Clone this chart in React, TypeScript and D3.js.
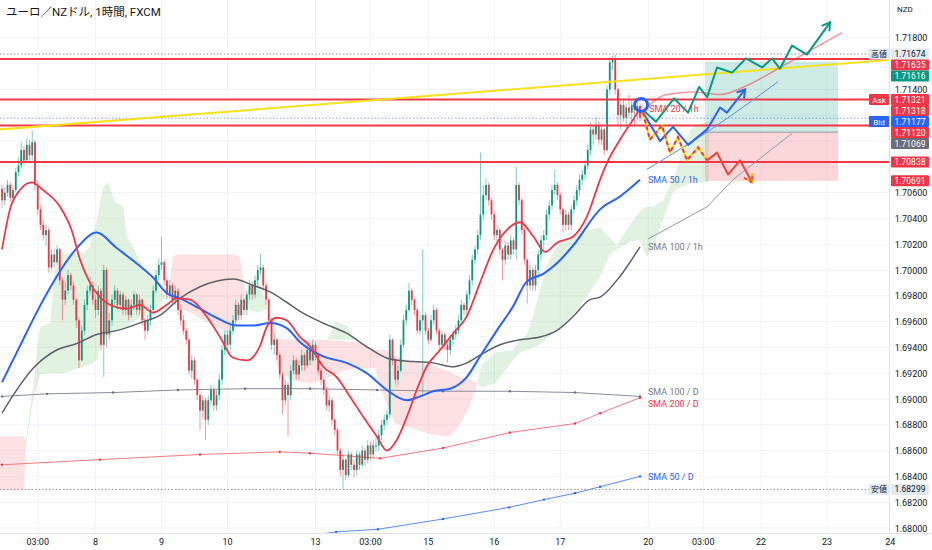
import * as d3 from "d3";

const W = 932;
const H = 550;
const PLOT_R = 889;
const PLOT_B = 533;
const FONT = "Roboto, 'Noto Sans CJK JP', sans-serif";

const title = "ユーロ／NZドル, 1時間, FXCM";
const currency = "NZD";

// hourly candles: [close, high, low]; open = previous close
const firstOpen = 1.7063;
const candles: [number, number, number][] = [
  [1.7054, 1.7066, 1.7048], [1.706, 1.7064, 1.705], [1.7066, 1.707, 1.7057], [1.7056, 1.7068, 1.7053],
  [1.7062, 1.7065, 1.7054], [1.7076, 1.7079, 1.706], [1.7081, 1.7087, 1.7073], [1.7093, 1.7099, 1.7079],
  [1.7085, 1.7096, 1.7081], [1.7097, 1.7102, 1.7083], [1.7089, 1.7101, 1.7085], [1.7099, 1.7108, 1.7085],
  [1.7066, 1.7101, 1.7062], [1.7047, 1.707, 1.7043], [1.7035, 1.705, 1.7031], [1.7027, 1.7039, 1.7023],
  [1.7031, 1.7035, 1.7019], [1.7002, 1.7033, 1.6998], [1.7012, 1.7016, 1.7], [1.7006, 1.7016, 1.7002],
  [1.7016, 1.7019, 1.7004], [1.6992, 1.7017, 1.6988], [1.6977, 1.6994, 1.6961], [1.6984, 1.6991, 1.6973],
  [1.6996, 1.7, 1.6981], [1.6988, 1.6998, 1.6984], [1.6977, 1.6991, 1.6973], [1.6961, 1.6978, 1.6955],
  [1.693, 1.6963, 1.6924], [1.6953, 1.6957, 1.6929], [1.6973, 1.6977, 1.695], [1.6984, 1.6988, 1.6969],
  [1.6988, 1.6995, 1.6981], [1.6977, 1.6991, 1.6973], [1.6969, 1.6981, 1.6963], [1.6984, 1.6988, 1.6965],
  [1.6942, 1.6986, 1.6938], [1.7, 1.7004, 1.6917], [1.695, 1.7002, 1.694], [1.6961, 1.6967, 1.6946],
  [1.6977, 1.6981, 1.6957], [1.6984, 1.6988, 1.6973], [1.6973, 1.6986, 1.6969], [1.6981, 1.6984, 1.6969],
  [1.6969, 1.6983, 1.6965], [1.6977, 1.698, 1.6965], [1.6965, 1.6978, 1.6961], [1.6973, 1.6977, 1.6963],
  [1.6981, 1.6984, 1.6969], [1.6969, 1.6982, 1.6965], [1.6977, 1.6981, 1.6965], [1.6961, 1.6978, 1.6957],
  [1.6953, 1.6963, 1.6946], [1.6961, 1.6965, 1.695], [1.6969, 1.6973, 1.6957], [1.6984, 1.6988, 1.6967],
  [1.6996, 1.7, 1.6982], [1.7004, 1.7009, 1.6992], [1.7006, 1.7026, 1.7], [1.6992, 1.7008, 1.6988],
  [1.6981, 1.6994, 1.6977], [1.6988, 1.6992, 1.6978], [1.6977, 1.699, 1.6973], [1.6984, 1.6988, 1.6973],
  [1.6969, 1.6986, 1.6965], [1.6961, 1.6973, 1.6957], [1.6953, 1.6965, 1.695], [1.6946, 1.6955, 1.6942],
  [1.6922, 1.6947, 1.6919], [1.693, 1.6934, 1.6916], [1.6915, 1.6932, 1.6911], [1.6903, 1.6916, 1.6899],
  [1.6891, 1.6905, 1.6876], [1.6899, 1.6903, 1.6885], [1.6884, 1.6901, 1.6868], [1.6899, 1.6903, 1.688],
  [1.6907, 1.6911, 1.6895], [1.6895, 1.6909, 1.6891], [1.6903, 1.6907, 1.6891], [1.6915, 1.6919, 1.6899],
  [1.6938, 1.6942, 1.6911], [1.695, 1.6953, 1.6934], [1.6942, 1.6953, 1.6938], [1.6953, 1.6957, 1.6938],
  [1.6961, 1.6965, 1.695], [1.6973, 1.6977, 1.6957], [1.6965, 1.6975, 1.6961], [1.6977, 1.6981, 1.6961],
  [1.6969, 1.6978, 1.6965], [1.6981, 1.6984, 1.6965], [1.6988, 1.6992, 1.6977], [1.6981, 1.6991, 1.6977],
  [1.6992, 1.6996, 1.6978], [1.7, 1.7004, 1.6988], [1.7002, 1.7012, 1.6996], [1.6988, 1.7004, 1.6984],
  [1.6977, 1.6991, 1.6973], [1.6961, 1.6978, 1.6957], [1.6942, 1.6963, 1.6938], [1.6946, 1.695, 1.6934],
  [1.6934, 1.6947, 1.693], [1.6919, 1.6936, 1.6915], [1.6899, 1.6921, 1.6888], [1.6911, 1.6915, 1.6895],
  [1.6903, 1.6913, 1.6871], [1.6922, 1.6926, 1.6899], [1.693, 1.6934, 1.6919], [1.6919, 1.6932, 1.6915],
  [1.6926, 1.693, 1.6915], [1.6934, 1.6938, 1.6922], [1.6926, 1.6936, 1.6922], [1.6938, 1.6942, 1.6924],
  [1.693, 1.694, 1.6926], [1.6942, 1.6946, 1.6929], [1.6934, 1.6944, 1.693], [1.6922, 1.6936, 1.6919],
  [1.6915, 1.6924, 1.6911], [1.6907, 1.6916, 1.6903], [1.6895, 1.6909, 1.6891], [1.6899, 1.6903, 1.689],
  [1.6884, 1.6901, 1.688], [1.6876, 1.6885, 1.6872], [1.686, 1.6878, 1.6857], [1.6845, 1.6862, 1.684],
  [1.6853, 1.6857, 1.683], [1.6841, 1.6854, 1.6837], [1.6857, 1.686, 1.6839], [1.6849, 1.6859, 1.6845],
  [1.6845, 1.6853, 1.6839], [1.6857, 1.686, 1.6841], [1.6849, 1.6859, 1.6845], [1.686, 1.6864, 1.6847],
  [1.6853, 1.6862, 1.6848], [1.6864, 1.6868, 1.685], [1.6857, 1.6867, 1.6853], [1.6864, 1.6868, 1.6854],
  [1.6864, 1.687, 1.6859], [1.6872, 1.6876, 1.686], [1.688, 1.6884, 1.6868], [1.6884, 1.6888, 1.6876],
  [1.6888, 1.6891, 1.688], [1.6946, 1.695, 1.6885], [1.693, 1.6947, 1.6926], [1.6915, 1.6932, 1.6911],
  [1.6922, 1.6926, 1.6911], [1.6942, 1.6946, 1.6921], [1.6961, 1.6965, 1.694], [1.6969, 1.6973, 1.6957],
  [1.6984, 1.699, 1.6967], [1.6977, 1.6986, 1.6973], [1.6969, 1.6978, 1.6965], [1.6953, 1.6971, 1.695],
  [1.6961, 1.6965, 1.695], [1.6965, 1.7016, 1.6902], [1.6953, 1.6967, 1.695], [1.6946, 1.6955, 1.6942],
  [1.6961, 1.6965, 1.6944], [1.6969, 1.6973, 1.6957], [1.6953, 1.6971, 1.695], [1.6942, 1.6955, 1.6938],
  [1.695, 1.6953, 1.6938], [1.6942, 1.6952, 1.6938], [1.6938, 1.6946, 1.6928], [1.6946, 1.695, 1.6934],
  [1.695, 1.6953, 1.6942], [1.6953, 1.6957, 1.6946], [1.6961, 1.6965, 1.695], [1.6973, 1.6977, 1.6957],
  [1.6969, 1.6975, 1.6965], [1.6981, 1.6984, 1.6965], [1.6992, 1.6996, 1.6977], [1.7008, 1.7012, 1.6988],
  [1.7016, 1.7019, 1.7004], [1.7027, 1.7031, 1.7012], [1.7043, 1.7091, 1.7023], [1.7058, 1.7066, 1.7039],
  [1.7066, 1.7071, 1.7054], [1.7054, 1.7068, 1.705], [1.7043, 1.7056, 1.7039], [1.7027, 1.7045, 1.7023],
  [1.7031, 1.7035, 1.7019], [1.7016, 1.7033, 1.7012], [1.7008, 1.7017, 1.6992], [1.7019, 1.7023, 1.7004],
  [1.7012, 1.7022, 1.7008], [1.7023, 1.7027, 1.7008], [1.7016, 1.7025, 1.7012], [1.7066, 1.708, 1.7008],
  [1.7054, 1.7068, 1.705], [1.7031, 1.7056, 1.7027], [1.7008, 1.7033, 1.7004], [1.6988, 1.7009, 1.6974],
  [1.7, 1.7004, 1.6984], [1.6988, 1.7002, 1.6984], [1.7, 1.7004, 1.6984], [1.7012, 1.7016, 1.6996],
  [1.7023, 1.7027, 1.7008], [1.7027, 1.7031, 1.7016], [1.7043, 1.7047, 1.7023], [1.705, 1.7054, 1.7039],
  [1.7062, 1.7066, 1.7047], [1.7066, 1.7078, 1.7058], [1.7058, 1.7068, 1.7054], [1.7047, 1.706, 1.7043],
  [1.7035, 1.7048, 1.7029], [1.7043, 1.7047, 1.7031], [1.7035, 1.7045, 1.7031], [1.7047, 1.705, 1.7031],
  [1.7054, 1.7058, 1.7043], [1.7062, 1.7066, 1.705], [1.707, 1.7074, 1.7058], [1.7074, 1.7078, 1.7066],
  [1.7081, 1.7085, 1.707], [1.7093, 1.7097, 1.7078], [1.7109, 1.7114, 1.7089], [1.7105, 1.7112, 1.7097],
  [1.7112, 1.7118, 1.7101], [1.7101, 1.7115, 1.7097], [1.7109, 1.7112, 1.7097], [1.7093, 1.711, 1.7089],
  [1.714, 1.7143, 1.7091], [1.7161, 1.7165, 1.7136], [1.7164, 1.7166, 1.7155], [1.714, 1.7167, 1.7136],
  [1.712, 1.7141, 1.7112], [1.7128, 1.7132, 1.7109], [1.7118, 1.7133, 1.7115], [1.7126, 1.7129, 1.711],
  [1.7122, 1.7136, 1.7118], [1.7128, 1.7132, 1.7115], [1.7124, 1.713, 1.7112], [1.7127, 1.7132, 1.7116],
  [1.7118, 1.7129, 1.7115],
];

// moving averages: [bar, price]
const sma20h: [number, number][] = [
  [0, 1.7016], [2.9, 1.7047], [6.5, 1.7062], [10.8, 1.7068], [14.9, 1.7062], [21.1, 1.7049], [25.3, 1.7031],
  [28.4, 1.7008], [32, 1.699], [35.6, 1.6979], [40.4, 1.6972], [45.3, 1.697], [50.2, 1.6973], [54.9, 1.6967],
  [59.9, 1.6973], [63.5, 1.6978], [68.4, 1.6977], [74.4, 1.6964], [79.3, 1.6948], [84, 1.6932], [89, 1.693],
  [93.8, 1.6941], [96.3, 1.6956], [99.9, 1.6963], [103.5, 1.6961], [108.4, 1.6948], [112, 1.6941],
  [116.8, 1.6925], [121.7, 1.6917], [126.5, 1.6902], [131.4, 1.6886], [136.3, 1.6871], [139.9, 1.686],
  [143.5, 1.6868], [147.2, 1.6886], [150.8, 1.6907], [154.4, 1.6925], [159.3, 1.6938], [164.1, 1.6951],
  [169, 1.6964], [173.8, 1.699], [178.7, 1.7016], [183.5, 1.7031], [188.4, 1.7037], [193.2, 1.7026],
  [197.5, 1.7014], [201.7, 1.7021], [207.7, 1.7026], [212.6, 1.7041], [217.5, 1.707], [220, 1.7083],
  [224.7, 1.7101], [230.8, 1.7121], [232.4, 1.7127],
];
const sma50h: [number, number][] = [
  [0, 1.6913], [6.5, 1.6941], [13.8, 1.6972], [19.9, 1.6995], [27.2, 1.7017], [34.4, 1.7029], [41.7, 1.7017],
  [49, 1.7005], [55, 1.6994], [59.9, 1.6982], [64.7, 1.6978], [72, 1.697], [78, 1.6963], [85.3, 1.6957],
  [91.4, 1.6957], [97.5, 1.6959], [103.5, 1.6955], [108.4, 1.6944], [116.8, 1.6933], [125.3, 1.6928],
  [132.6, 1.692], [139.9, 1.6907], [147.2, 1.6899], [152, 1.6902], [156.8, 1.6906], [162.9, 1.6908],
  [169, 1.6917], [173.8, 1.6933], [179.9, 1.6953], [185.9, 1.6972], [190.8, 1.6991], [196.8, 1.6997],
  [201.7, 1.7005], [207.7, 1.7019], [217.5, 1.7047], [224.7, 1.7057], [232, 1.707],
];
const sma100h: [number, number][] = [
  [0, 1.6889], [4.1, 1.6903], [11.4, 1.6924], [19.9, 1.6938], [27.2, 1.6943], [34.4, 1.695], [41.7, 1.6953],
  [50.2, 1.6959], [57.5, 1.6965], [64.7, 1.6978], [72, 1.6987], [84.1, 1.6993], [91.4, 1.6988], [97.5, 1.6983],
  [103.5, 1.6975], [108.4, 1.6968], [115.6, 1.696], [125.3, 1.6951], [133.8, 1.6939], [141.1, 1.6931],
  [149.6, 1.6929], [156.8, 1.6928], [164.1, 1.6925], [169, 1.6928], [173.8, 1.6934], [181.1, 1.6942],
  [188.4, 1.6946], [195.6, 1.6948], [201.7, 1.6953], [207.7, 1.6964], [213.8, 1.6977], [217.5, 1.6979],
  [224.7, 1.6995], [232, 1.7018],
];
const sma100d: [number, number][] = [
  [0, 1.6902], [16.4, 1.6904], [40.4, 1.6905], [64, 1.6907], [88.4, 1.6908], [112, 1.6908], [136.4, 1.6907],
  [160.4, 1.6906], [184.7, 1.6906], [208.4, 1.6905], [232, 1.6902],
];
const sma200d: [number, number][] = [
  [0, 1.6849], [35.6, 1.6853], [72, 1.6857], [101, 1.6859], [112, 1.6858], [137.5, 1.6854], [160.4, 1.6862],
  [184.7, 1.6874], [208.4, 1.6881], [217.5, 1.6889], [232, 1.6901],
];
const sma50d: [number, number][] = [
  [108.4, 1.6793], [121.5, 1.6797], [136.7, 1.6799], [160.4, 1.6807], [184.4, 1.6816], [197.1, 1.6822],
  [208.4, 1.6827], [217.5, 1.6832], [232, 1.684],
];

// ichimoku cloud pieces: [bar, upper, lower]
const cloudGreen: [number, number, number][][] = [
  [
    [8.7, 1.6868, 1.6864], [11.3, 1.6909, 1.6899], [13.8, 1.6956, 1.6919], [17.5, 1.6959, 1.692],
    [19.3, 1.7, 1.692], [21.8, 1.7013, 1.692], [29.5, 1.7013, 1.6925], [32, 1.7018, 1.6927],
    [34.5, 1.7039, 1.693], [36.7, 1.7064, 1.6947], [38.5, 1.7068, 1.6951], [41.1, 1.7053, 1.6953],
    [44, 1.7049, 1.6955], [45.5, 1.7026, 1.6956], [47.6, 1.7018, 1.696], [51.3, 1.7002, 1.6964],
    [54.9, 1.6992, 1.6969], [58.5, 1.6982, 1.6977], [60.4, 1.6979, 1.6979],
  ],
  [[88.7, 1.6977, 1.6977], [90.2, 1.699, 1.6969], [93.1, 1.6992, 1.6967], [95.6, 1.6977, 1.6969], [96.7, 1.6969, 1.6969]],
  [[118.2, 1.6946, 1.6946], [121.1, 1.696, 1.6946], [125.5, 1.6957, 1.6946], [128.4, 1.6946, 1.6946]],
  [
    [172.7, 1.6912, 1.6912], [174.5, 1.6926, 1.6909], [179.3, 1.6936, 1.6912], [185.8, 1.6938, 1.693],
    [188.4, 1.6946, 1.6936], [190.9, 1.695, 1.6938], [193.1, 1.6964, 1.694], [195.6, 1.6984, 1.6942],
    [198.2, 1.7004, 1.6947], [201.8, 1.7019, 1.6953], [207.6, 1.7026, 1.6965], [213.8, 1.7031, 1.6983],
    [217.5, 1.7033, 1.6995], [221.1, 1.7025, 1.7012], [223.6, 1.7019, 1.7016], [228.4, 1.7035, 1.7022],
    [232, 1.7046, 1.7023], [234.5, 1.7049, 1.701], [236.7, 1.7049, 1.7018], [240.4, 1.7054, 1.7039],
    [241.8, 1.706, 1.7047], [244, 1.707, 1.706], [246.5, 1.7085, 1.7064], [250.2, 1.7109, 1.7067],
    [252, 1.7112, 1.7068], [257, 1.7115, 1.7068],
  ],
];
const cloudRed: [number, number, number][][] = [
  [[-1, 1.6871, 1.6829], [8, 1.6871, 1.6829], [8.7, 1.6868, 1.6864]],
  [
    [60.4, 1.6979, 1.6979], [62.2, 1.7011, 1.6984], [64.7, 1.7012, 1.6971], [68.4, 1.7012, 1.6967],
    [73.1, 1.7012, 1.6961], [78.2, 1.7012, 1.6956], [81.8, 1.7012, 1.6951], [84, 1.7012, 1.6956],
    [86.5, 1.701, 1.6963], [88.7, 1.6977, 1.6977],
  ],
  [
    [96.7, 1.6969, 1.6969], [100, 1.6947, 1.6926], [104.7, 1.6946, 1.6915], [112, 1.6946, 1.6912],
    [116.7, 1.6946, 1.6915], [122.9, 1.6945, 1.6921], [129.1, 1.6944, 1.6924], [135.6, 1.6938, 1.6924],
    [139.3, 1.6938, 1.6899], [142.9, 1.6934, 1.6881], [148.4, 1.6929, 1.6878], [156.7, 1.6926, 1.6872],
    [162.9, 1.6921, 1.6871], [166.5, 1.6917, 1.688], [170.2, 1.6915, 1.6895], [172.7, 1.6912, 1.6912],
  ],
];

const hLines = [1.71635, 1.71321, 1.7112, 1.70838];
const highPrice = 1.71674;
const lowPrice = 1.68299;
const bidPrice = 1.71177;
const trendLine: [number, number][] = [[-0.8, 1.7109], [323.5, 1.7163]];

// drawn scenarios
const pathGreen: [number, number][] = [
  [233.1, 1.7124], [237.8, 1.7115], [244.4, 1.7133], [249.5, 1.7122], [253.5, 1.7142], [256.4, 1.7134],
  [260, 1.7157], [265.5, 1.7153], [270.5, 1.7164], [276.4, 1.7157], [280, 1.7164], [282.9, 1.7156],
  [287.3, 1.7174], [292.7, 1.7167], [301.1, 1.7192],
];
const pathBlue: [number, number][] = [
  [233.1, 1.7122], [239.3, 1.71], [244, 1.7111], [249.5, 1.7097], [256.4, 1.7109], [261.1, 1.7126],
  [263.6, 1.7122], [270.2, 1.714],
];
const pathDashed: [number, number][] = [
  [233.1, 1.7122], [235.6, 1.7101], [240, 1.7112], [242.9, 1.7091], [245.8, 1.7103], [249.1, 1.7085],
  [253.1, 1.7095], [256.4, 1.7085],
];
const pathRed: [number, number][] = [[256.4, 1.7085], [260, 1.7091], [264, 1.7074], [268.4, 1.7085], [272.7, 1.7068]];
const projPink: [number, number][] = [
  [233.1, 1.7124], [241.8, 1.7136], [251.3, 1.7138], [261.1, 1.7136], [270.9, 1.7143], [282.9, 1.7157], [305.5, 1.7184],
];
const projBlue: [number, number][] = [[234.5, 1.7078], [256.4, 1.7107], [282.2, 1.7146]];
const projGray: [number, number][] = [[234.9, 1.7024], [256.4, 1.7049], [265.8, 1.707], [287.3, 1.7106]];
const marker: [number, number] = [232.4, 1.7128];

const position = { from: 255.6, to: 304, entry: 1.71069, target: 1.71616, stop: 1.70691 };

const priceLabels = [
  { v: 1.71674, tag: "高値", bg: "#e3eaf3", fg: "#131722" },
  { v: 1.71635, bg: "#f23645", fg: "#fff" },
  { v: 1.71616, bg: "#089981", fg: "#fff" },
  { v: 1.71321, tag: "Ask", bg: "#f23645", fg: "#fff" },
  { v: 1.71318, bg: "#f23645", fg: "#fff" },
  { v: 1.71177, tag: "Bid", bg: "#2962ff", fg: "#fff" },
  { v: 1.7112, bg: "#f23645", fg: "#fff" },
  { v: 1.71069, bg: "#6a6d78", fg: "#fff" },
  { v: 1.70838, bg: "#f23645", fg: "#fff" },
  { v: 1.70691, bg: "#f23645", fg: "#fff" },
  { v: 1.68299, tag: "安値", bg: "#e3eaf3", fg: "#131722" },
];

const priceTicks = d3.range(0, 20).map((k) => 1.68 + k * 0.002);
const timeTicks = [
  { bar: 13, label: "03:00" }, { bar: 34, label: "8" }, { bar: 58, label: "9" }, { bar: 82, label: "10" },
  { bar: 114, label: "13" }, { bar: 134, label: "03:00" }, { bar: 155, label: "15" }, { bar: 179, label: "16" },
  { bar: 203, label: "17" }, { bar: 235, label: "20" }, { bar: 255, label: "03:00" }, { bar: 276, label: "22" },
  { bar: 300, label: "23" }, { bar: 323, label: "24" },
];

const App = () => {
  const x = d3.scaleLinear().domain([0, 232]).range([2, 2 + 232 * 2.75]);
  const y = d3.scaleLinear().domain([1.68, 1.718]).range([528, 528 - 0.038 * 12900]);
  const fmt = d3.format(".5f");

  const line = d3
    .line<[number, number]>()
    .x((d) => x(d[0]))
    .y((d) => y(d[1]))
    .curve(d3.curveMonotoneX);
  const straight = d3
    .line<[number, number]>()
    .x((d) => x(d[0]))
    .y((d) => y(d[1]));
  const area = d3
    .area<[number, number, number]>()
    .x((d) => x(d[0]))
    .y0((d) => y(d[2]))
    .y1((d) => y(d[1]));

  const arrow = (pts: [number, number][], len = 9) => {
    const [a, b] = pts.slice(-2);
    const x1 = x(a[0]), y1 = y(a[1]), x2 = x(b[0]), y2 = y(b[1]);
    const ang = Math.atan2(y2 - y1, x2 - x1);
    const p = (s: number) => `${x2 - len * Math.cos(ang + s)},${y2 - len * Math.sin(ang + s)}`;
    return `M${p(-0.55)}L${x2},${y2}L${p(0.55)}`;
  };

  // stack right-axis labels so they don't overlap
  const boxH = 11;
  let last = -Infinity;
  const placed = priceLabels.map((l) => {
    let cy = y(l.v);
    if (cy < last + boxH) cy = last + boxH;
    last = cy;
    return { ...l, cy };
  });
  // tick labels hidden behind a label box
  const visibleTicks = priceTicks.filter((p) => placed.every((l) => Math.abs(y(p) - l.cy) > boxH / 2 + 4));

  let prev = firstOpen;
  const bars = candles.map(([c, h, l], i) => {
    const o = prev;
    prev = c;
    return { i, o, c, h: Math.max(h, o, c), l: Math.min(l, o, c) };
  });

  const smaLabel = (pts: [number, number][], text: string, color: string, dy = 3.5) => {
    const [b, p] = pts[pts.length - 1];
    return (
      <text x={x(b) + 8} y={y(p) + dy} fill={color} fontSize={9}>
        {text}
      </text>
    );
  };

  return (
    <svg width={W} height={H} style={{ position: "absolute", left: 0, top: 0, background: "#fff" }} fontFamily={FONT}>
      <defs>
        <clipPath id="plot">
          <rect x={0} y={0} width={PLOT_R} height={PLOT_B} />
        </clipPath>
      </defs>
      <rect width={W} height={H} fill="#fff" />

      <g clipPath="url(#plot)">
        {/* grid */}
        {priceTicks.map((p) => (
          <line key={p} x1={0} x2={PLOT_R} y1={y(p)} y2={y(p)} stroke="#f2f4f8" />
        ))}
        {timeTicks.map((t, k) => (
          <line key={k} x1={x(t.bar)} x2={x(t.bar)} y1={0} y2={PLOT_B} stroke="#f2f4f8" />
        ))}

        {/* cloud */}
        {cloudGreen.map((seg, k) => (
          <path key={"g" + k} d={area(seg) || ""} fill="rgba(76,175,80,0.17)" />
        ))}
        {cloudRed.map((seg, k) => (
          <path key={"r" + k} d={area(seg) || ""} fill="rgba(242,54,69,0.15)" />
        ))}

        {/* long position */}
        <rect
          x={x(position.from)}
          width={x(position.to) - x(position.from)}
          y={y(position.target)}
          height={y(position.entry) - y(position.target)}
          fill="rgba(8,153,129,0.2)"
        />
        <rect
          x={x(position.from)}
          width={x(position.to) - x(position.from)}
          y={y(position.entry)}
          height={y(position.stop) - y(position.entry)}
          fill="rgba(242,54,69,0.2)"
        />
        <line
          x1={x(position.from)}
          x2={x(position.to)}
          y1={y(position.entry)}
          y2={y(position.entry)}
          stroke="#9598a1"
        />

        {/* daily SMAs */}
        <path d={straight(sma100d) || ""} fill="none" stroke="#8a8d96" strokeWidth={1} />
        <path d={straight(sma200d) || ""} fill="none" stroke="#f77c80" strokeWidth={1} />
        <path d={straight(sma50d) || ""} fill="none" stroke="#5b8df6" strokeWidth={1} />
        {[...sma100d, ...sma200d, ...sma50d].map((d, k) => (
          <circle key={k} cx={x(d[0])} cy={y(d[1])} r={1.2} fill={k < 11 ? "#6a6d78" : k < 22 ? "#f23645" : "#2962ff"} />
        ))}

        {/* candles */}
        {bars.map((b) => {
          const col = b.c >= b.o ? "#089981" : "#f23645";
          const top = y(Math.max(b.o, b.c));
          const bh = Math.max(1, Math.abs(y(b.o) - y(b.c)));
          return (
            <g key={b.i}>
              <line x1={x(b.i)} x2={x(b.i)} y1={y(b.h)} y2={y(b.l)} stroke={col} strokeOpacity={0.5} strokeWidth={1} />
              <rect x={x(b.i) - 0.9} width={1.8} y={top} height={bh} fill={col} />
            </g>
          );
        })}

        {/* hourly SMAs */}
        <path d={line(sma100h) || ""} fill="none" stroke="#5d606b" strokeWidth={1.5} />
        <path d={line(sma50h) || ""} fill="none" stroke="#2962ff" strokeWidth={2} />
        <path d={line(sma20h) || ""} fill="none" stroke="#f23645" strokeWidth={1.8} />

        {/* levels */}
        <line x1={0} x2={PLOT_R} y1={y(highPrice)} y2={y(highPrice)} stroke="#9598a1" strokeDasharray="1.5,2" />
        <line x1={0} x2={PLOT_R} y1={y(lowPrice)} y2={y(lowPrice)} stroke="#9598a1" strokeDasharray="1.5,2" />
        <line x1={0} x2={PLOT_R} y1={y(bidPrice)} y2={y(bidPrice)} stroke="#2962ff" strokeOpacity={0.6} strokeDasharray="1.5,2" />
        {hLines.map((p) => (
          <line key={p} x1={0} x2={PLOT_R} y1={y(p)} y2={y(p)} stroke="#f23645" strokeWidth={2} />
        ))}
        <path d={straight(trendLine) || ""} stroke="#f7e11b" strokeWidth={2} fill="none" />

        {/* projections */}
        <path d={line(projPink) || ""} fill="none" stroke="rgba(242,54,69,0.5)" strokeWidth={1.5} />
        <path d={line(projBlue) || ""} fill="none" stroke="#5b8df6" strokeWidth={1} />
        <path d={straight(projGray) || ""} fill="none" stroke="#9598a1" strokeWidth={1} />

        <path d={straight(pathGreen) || ""} fill="none" stroke="#089981" strokeWidth={2} strokeLinejoin="round" />
        <path d={arrow(pathGreen)} fill="none" stroke="#089981" strokeWidth={2} />
        <path d={straight(pathBlue) || ""} fill="none" stroke="#2962ff" strokeWidth={2} strokeLinejoin="round" />
        <path d={arrow(pathBlue)} fill="none" stroke="#2962ff" strokeWidth={2} />
        <path d={straight(pathDashed) || ""} fill="none" stroke="#ffd600" strokeWidth={2} />
        <path d={straight(pathDashed) || ""} fill="none" stroke="#f23645" strokeWidth={2} strokeDasharray="4,3" />
        <path d={straight(pathRed) || ""} fill="none" stroke="#f44336" strokeWidth={2} strokeLinejoin="round" />
        <path d={arrow(pathRed)} fill="none" stroke="#ffb300" strokeWidth={2} />
        <path d={arrow(pathRed)} fill="none" stroke="#f44336" strokeWidth={2} strokeDasharray="3,3" />

        <circle cx={x(marker[0])} cy={y(marker[1])} r={6.5} fill="none" stroke="#2962ff" strokeWidth={3} />

        {smaLabel(sma20h, "SMA 20 / 1h", "#f23645", 6)}
        {smaLabel(sma50h, "SMA 50 / 1h", "#2962ff")}
        {smaLabel(sma100h, "SMA 100 / 1h", "#787b86")}
        {smaLabel(sma100d, "SMA 100 / D", "#787b86", -1)}
        {smaLabel(sma200d, "SMA 200 / D", "#f23645", 9)}
        {smaLabel(sma50d, "SMA 50 / D", "#2962ff")}
      </g>

      {/* axes frame */}
      <line x1={PLOT_R + 0.5} x2={PLOT_R + 0.5} y1={0} y2={PLOT_B} stroke="#e0e3eb" />
      <line x1={0} x2={W} y1={PLOT_B + 0.5} y2={PLOT_B + 0.5} stroke="#e0e3eb" />

      <text x={6} y={16} fontSize={11.5} fill="#131722">
        {title}
      </text>
      <text x={897} y={12} fontSize={8} fill="#131722">
        {currency}
      </text>

      {visibleTicks.map((p) => (
        <text key={p} x={911} y={y(p) + 3.5} fontSize={9} fill="#131722" textAnchor="middle">
          {fmt(p)}
        </text>
      ))}
      {timeTicks.map((t, k) => (
        <text key={k} x={x(t.bar)} y={545} fontSize={9} fill="#131722" textAnchor="middle">
          {t.label}
        </text>
      ))}

      {placed.map((l, k) => (
        <g key={k}>
          <rect x={891} y={l.cy - boxH / 2} width={38} height={boxH} fill={l.bg} rx={1} />
          <text x={910} y={l.cy + 3} fontSize={8.5} fill={l.fg} textAnchor="middle">
            {fmt(l.v)}
          </text>
          {l.tag && (
            <g>
              <rect x={869} y={l.cy - boxH / 2} width={20} height={boxH} fill={l.bg} rx={1} />
              <text x={879} y={l.cy + 3} fontSize={8} fill={l.fg} textAnchor="middle">
                {l.tag}
              </text>
            </g>
          )}
        </g>
      ))}
    </svg>
  );
};

export default App;
